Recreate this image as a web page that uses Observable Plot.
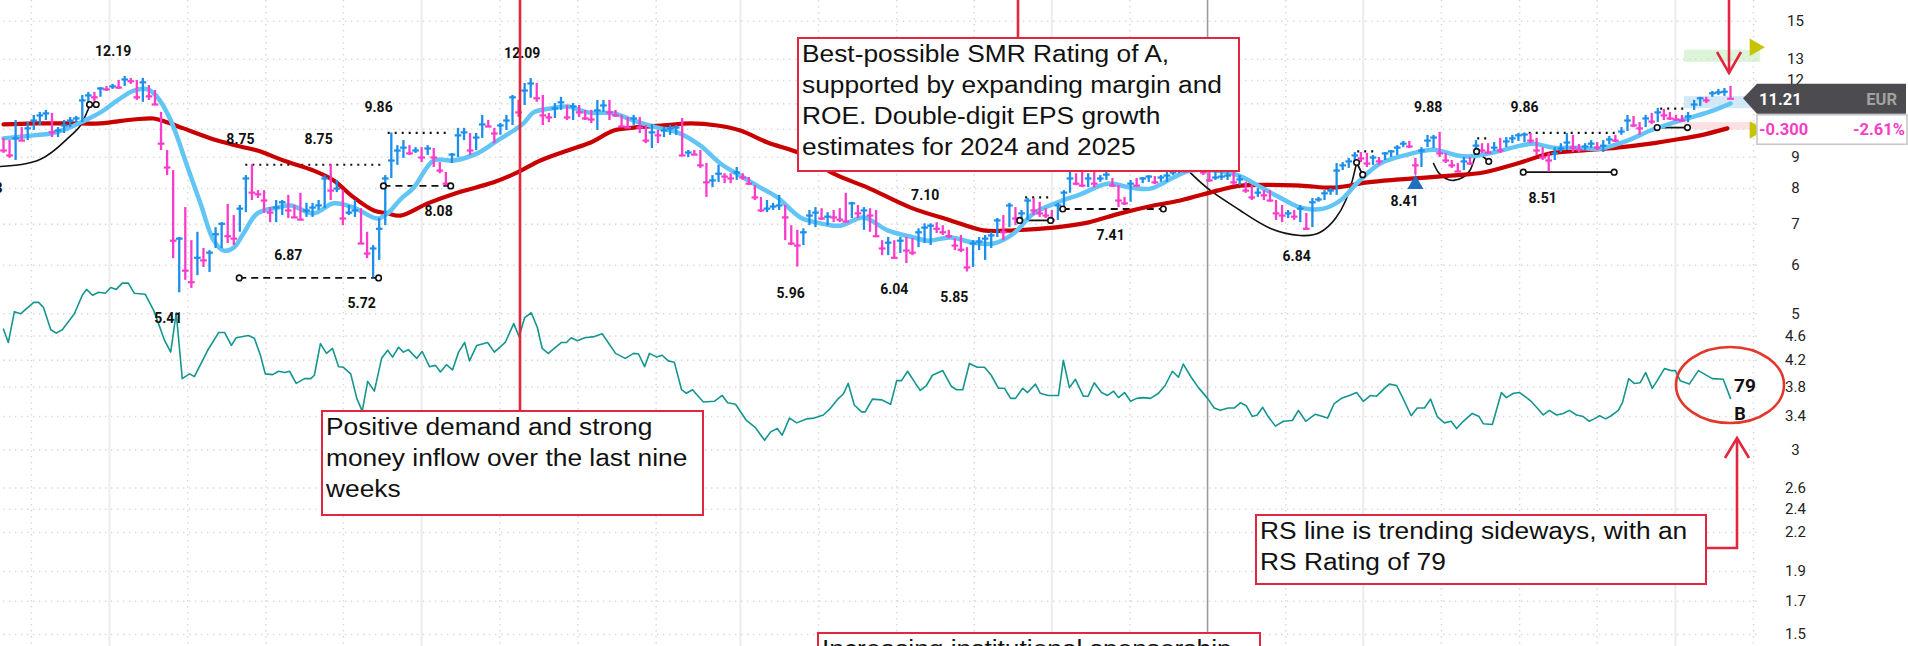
<!DOCTYPE html>
<html><head><meta charset="utf-8">
<script src="https://cdn.jsdelivr.net/npm/d3@7"></script>
<script src="https://cdn.jsdelivr.net/npm/@observablehq/plot@0.6"></script>
<style>
html,body{margin:0;padding:0;background:#fff;overflow:hidden}
#wrap{position:relative;width:1908px;height:646px;overflow:hidden;background:#fff}
#wrap > svg{position:absolute;left:0;top:0}
.box{position:absolute;box-sizing:border-box;border:2.6px solid #e3263f;background:#fff;overflow:hidden}
.box .t{position:absolute;left:3px;top:0;transform:scaleX(1.12);transform-origin:0 0;white-space:nowrap;
  font-family:"Liberation Sans",Arial,sans-serif;font-size:23.5px;line-height:31px;color:#111}
</style></head>
<body><div id="wrap"></div>
<script>
// ---------- weekly price bars (high / low / close) ----------
const H = [9.66,9.58,10.33,10.06,10.25,10.53,10.65,10.73,10.61,10.06,
10.33,10.45,10.49,11.35,11.48,11.48,11.69,11.74,11.83,12.01,
12.19,12.10,12.01,12.10,11.78,11.56,10.65,9.23,8.56,6.66,
7.45,6.58,6.79,6.39,6.34,6.91,7.04,7.54,7.23,7.51,
8.40,8.75,7.94,7.94,7.45,7.65,7.65,7.80,7.51,7.86,
7.57,7.57,7.65,8.40,8.75,8.25,7.94,7.51,7.65,7.42,
6.79,6.46,7.15,8.40,9.86,9.40,9.58,
9.40,9.33,9.33,9.40,9.30,8.82,8.50,9.13,10.03,10.03,
9.84,9.84,10.53,10.33,10.03,10.22,10.53,11.35,11.14,11.87,
12.09,11.87,11.35,10.61,11.01,11.27,10.93,11.01,10.93,10.73,
10.73,11.14,11.14,11.14,10.73,10.53,10.45,10.53,10.45,10.14,
10.18,9.95,10.06,10.14,10.14,10.41,9.23,9.23,9.23,8.79,
8.40,8.73,8.46,8.46,8.66,8.46,8.34,8.09,7.74,7.65,
7.57,7.80,7.51,6.96,6.84,6.88,
7.37,7.45,7.42,7.31,7.37,7.42,7.86,7.60,7.51,7.45,
7.42,7.37,6.58,6.66,6.58,6.66,6.66,6.63,6.88,7.01,
7.01,7.04,6.96,6.84,6.63,6.71,6.41,6.58,6.66,6.71,
6.79,7.15,7.23,7.57,7.45,7.37,7.71,7.71,7.60,7.42,
7.37,7.57,7.94,8.50,8.46,8.50,8.46,8.56,8.40,8.56,
8.31,8.09,7.74,8.25,8.31,8.34,8.40,8.37,8.40,8.50,
8.56,8.66,8.66,8.73,8.79,8.63,
8.50,8.50,8.50,8.56,8.50,8.40,8.19,8.09,8.00,7.94,
7.94,7.65,7.51,7.37,7.37,7.51,7.29,7.71,7.74,7.94,
8.00,8.79,8.82,8.96,9.16,9.16,9.13,9.06,8.99,9.16,
9.23,9.40,9.55,9.55,8.96,9.33,9.77,9.77,9.88,9.13,
8.89,8.79,8.99,8.99,9.58,9.47,9.47,9.51,9.66,9.69,
9.77,9.84,9.86,9.84,9.66,9.33,9.13,9.33,9.47,9.84,
9.77,9.44,9.47,9.58,9.51,9.58,9.73,9.77,10.06,10.53,
10.49,10.25,10.53,10.61,10.81,10.77,10.65,10.53,10.53,10.65,
11.14,11.27,11.27,11.52,11.61,11.65,11.74];
const L = [9.13,8.96,8.89,9.55,9.58,9.95,10.14,10.33,9.69,9.69,
9.84,10.06,10.25,10.25,10.81,11.06,11.27,11.52,11.61,11.61,
11.74,11.83,11.14,11.06,11.14,10.93,9.23,8.40,6.15,5.41,
5.67,5.50,5.77,5.95,5.84,6.39,6.39,6.51,6.46,6.79,
7.31,7.65,7.71,7.29,7.04,7.04,7.23,7.15,7.15,7.10,
7.18,7.18,7.37,7.42,7.65,7.88,6.96,7.23,7.18,6.51,
6.15,5.72,6.11,6.96,8.31,8.73,8.96,
9.06,9.13,8.82,9.06,8.66,8.46,8.08,8.79,8.99,9.58,
9.06,9.23,9.66,10.06,9.47,9.77,9.95,10.14,10.45,10.93,
11.23,11.06,10.14,10.25,10.41,10.73,10.33,10.33,10.45,10.33,
10.21,9.95,10.65,10.33,10.45,10.06,10.03,10.14,9.84,9.47,
9.30,9.47,9.69,9.77,9.77,9.06,8.99,9.06,8.63,7.74,
8.03,8.19,8.15,8.15,8.25,8.25,8.09,7.65,7.31,7.31,
7.37,7.37,6.58,6.46,5.96,6.46,
6.96,6.91,7.10,6.96,7.04,7.04,7.04,7.15,7.15,6.84,
6.79,6.66,6.22,6.22,6.15,6.27,6.04,6.22,6.41,6.51,
6.46,6.76,6.71,6.63,6.34,6.29,5.85,5.95,6.34,6.11,
6.39,6.66,6.58,6.91,6.96,7.04,7.10,7.23,7.18,7.15,
7.04,7.10,7.45,7.86,8.09,8.03,8.03,8.03,8.19,8.25,
8.03,7.45,7.51,7.60,8.06,8.15,8.19,8.12,8.19,8.19,
8.40,8.46,8.50,8.50,8.56,8.40,
8.19,8.25,8.25,8.25,8.09,8.09,7.86,7.65,7.74,7.65,
7.60,7.10,7.04,7.15,7.10,7.04,6.84,6.91,7.60,7.65,
7.80,7.80,8.56,8.63,8.79,8.82,8.66,8.73,8.73,8.89,
8.99,9.06,9.33,9.30,8.41,8.66,9.33,9.30,8.99,8.79,
8.63,8.53,8.56,8.73,9.23,9.13,9.13,9.20,9.13,9.33,
9.47,9.55,9.51,9.47,9.06,8.89,8.51,8.89,9.16,9.23,
9.16,9.16,9.23,9.30,9.23,9.16,9.44,9.51,9.77,9.91,
10.06,9.77,10.06,10.18,10.25,10.33,10.33,10.29,10.25,10.25,
10.73,10.89,11.01,11.27,11.35,11.31,11.23];
const C = [9.23,9.06,9.66,9.58,10.03,10.33,10.53,10.61,9.88,9.95,
10.14,10.33,10.41,11.14,11.35,11.27,11.65,11.61,11.74,11.69,
12.05,11.97,11.27,11.92,11.31,10.97,9.47,8.66,6.58,6.63,
5.88,5.63,6.17,6.11,6.29,6.74,7.01,6.69,6.63,7.42,
8.31,7.88,7.83,7.65,7.31,7.45,7.60,7.37,7.18,7.12,
7.37,7.45,7.51,8.31,7.94,8.00,7.15,7.31,7.37,6.51,
6.27,6.39,6.88,8.31,8.89,9.23,9.33,
9.13,9.23,8.99,9.30,8.99,8.56,8.15,9.09,9.77,9.88,
9.23,9.69,10.18,10.10,9.84,10.14,10.33,11.27,10.65,11.56,
11.87,11.23,10.53,10.45,10.81,11.06,10.45,10.89,10.65,10.41,
10.37,10.73,10.93,10.65,10.53,10.10,10.06,10.41,10.06,9.58,
9.88,9.77,9.95,10.03,10.06,9.06,9.16,9.09,8.73,8.19,
8.25,8.46,8.37,8.31,8.50,8.34,8.15,7.74,7.37,7.42,
7.48,7.51,7.18,6.51,6.46,6.79,
7.23,7.31,7.15,7.20,7.18,7.12,7.07,7.57,7.29,7.37,
7.23,6.69,6.39,6.53,6.17,6.58,6.34,6.29,6.79,6.91,
6.96,6.88,6.79,6.69,6.46,6.36,5.95,6.51,6.56,6.63,
6.71,7.10,6.79,7.51,7.15,7.29,7.65,7.37,7.29,7.23,
7.10,7.51,7.88,8.31,8.15,8.09,8.31,8.15,8.31,8.43,
8.09,7.65,7.57,8.15,8.09,8.31,8.37,8.19,8.34,8.40,
8.50,8.56,8.53,8.63,8.69,8.50,
8.25,8.34,8.37,8.40,8.19,8.28,7.94,7.74,7.88,7.80,
7.65,7.29,7.23,7.29,7.20,7.42,6.88,7.60,7.68,7.86,
7.94,8.56,8.73,8.86,9.06,8.96,8.79,8.99,8.86,9.13,
9.20,9.33,9.47,9.37,8.73,9.23,9.58,9.69,9.13,8.89,
8.73,8.53,8.86,8.79,9.40,9.23,9.16,9.33,9.23,9.55,
9.66,9.77,9.80,9.58,9.23,8.99,8.89,9.13,9.30,9.51,
9.33,9.26,9.37,9.47,9.33,9.40,9.62,9.58,9.91,10.33,
10.14,10.03,10.41,10.29,10.65,10.53,10.41,10.37,10.33,10.49,
10.97,11.23,11.14,11.44,11.48,11.51,11.21];

// ---------- moving averages (week index, price) ----------
const ma10Week = [0,5,7.8,10.6,12.7,16,18.8,21.5,23.8,25.4,27.6,30.4,32.5,34.7,36.3,38,39.6,41.9,45.2,47.4,51.2,54.5,57.8,61.7,63.4,65.5,67.7,71,74.3,78.2,81.5,84.2,85.8,87.5,90.3,93.1,96.4,100.7,104,107.9,111.2,115,118.3,122.1,124.9,127.7,131.5,134.3,138.1,141.9,145.9,150.2,152.5,156.3,160.1,163.4,166.7,170,174,177.7,182.2,186,189.3,193.1,195.9,203,207.9,212.4,214,217.8,220.6,223.5,227.2,231.7,236,239.9,242.1,245.9,250.3,252.5,255.8,259.7,263.5,268,271.8,275.6,279.6,282.2,285];
const ma10Value = [9.66,9.77,9.84,10.03,10.25,10.65,11.14,11.56,11.61,11.27,10.33,8.66,7.57,6.58,6.34,6.41,6.76,7.29,7.45,7.51,7.29,7.57,7.45,7.15,7.29,7.68,8.03,8.89,8.89,9.13,9.58,9.95,10.22,10.65,10.81,10.89,10.65,10.61,10.33,10.06,9.88,9.40,8.79,8.34,8.03,7.74,7.18,7.04,6.96,7.18,6.84,6.66,6.58,6.66,6.53,6.51,6.76,7.29,7.60,7.83,8.15,8.03,8.00,8.34,8.56,8.46,8.00,7.57,7.45,7.42,7.65,8.19,8.79,9.09,9.26,9.06,9.03,9.16,9.40,9.47,9.33,9.33,9.30,9.58,9.95,10.25,10.53,10.73,11.01];
const ma40Week = [0,5,10.6,16,21.5,24.8,27.1,29.7,35.3,39.1,41.9,46.2,51.2,54.5,57.8,61.1,63.4,65.5,70,74.9,80.9,84.8,88.6,93.1,96.9,100.7,104,108.9,113.4,117.8,121.6,126.1,131.5,137,142.6,149.7,156.3,161.7,166.7,173.3,178.9,184.3,189.8,194.2,200.3,204.1,214,219.5,225.1,230.5,238.8,244.2,249.8,255.3,260.7,266.3,271.8,277.2,280,284.5];
const ma40Value = [10.18,10.22,10.22,10.22,10.37,10.41,10.25,10.03,9.58,9.37,9.23,8.89,8.56,8.25,7.74,7.37,7.29,7.23,7.57,7.88,8.19,8.50,8.89,9.23,9.51,9.95,10.06,10.14,10.22,10.14,9.95,9.51,9.13,8.46,8.03,7.45,7.10,6.84,6.84,6.91,7.04,7.29,7.51,7.65,7.94,8.09,8.09,8.03,8.19,8.28,8.40,8.50,8.79,9.13,9.23,9.33,9.47,9.66,9.77,10.03];

// ---------- relative strength line (week index, value on price scale) ----------
const rsWeek = [0,0.8,1.8,2.8,5,5.8,6.6,7.8,8.7,9.7,11.7,13,13.7,14.7,15.7,16.8,17.7,18.6,19.6,20.6,21.6,23.4,24.8,26.6,27.6,28.5,29.5,30.7,31.5,33.7,35.5,36.5,37.6,38.4,40.4,41.4,42.4,43.2,44.4,45.4,46.4,47.2,48.3,49.7,50.7,51.3,52.3,53.3,54.3,55.3,56.1,57.3,58.3,59.2,60.1,61.2,62.4,63.4,64.2,65.2,66,66.8,68.2,69.1,70.3,71.3,72.1,73.1,74.1,75.1,76.1,76.9,78.1,79.9,81,82.8,84.2,85.1,86,87.1,88.1,88.9,89.9,92.1,92.9,93.7,94.7,95.9,97.5,98.8,101,102.6,104,104.8,105.8,106.6,107.8,108.7,109.7,110.7,111.9,112.7,113.7,115.5,117.3,118.6,119.5,120.8,122.6,124.1,125.6,126.6,127.7,128.5,129.7,130.9,132.5,133.8,135.3,136.5,137.8,138.6,139.4,140.4,141.6,142.2,143.4,144.9,146.4,147.4,148.2,149.2,150.5,151.3,152.3,153.3,155,156.4,157.3,158.3,159.4,160.7,161.9,163,164.2,165.2,166.2,167,168.2,169,170.3,171.1,172.4,174.1,174.9,175.9,176.9,178.2,179,180,181.2,182.2,183.2,184,185,186,187,188.1,189.3,190.6,191.7,192.9,193.9,194.7,196,197.2,198.7,199.8,200.8,202.1,203.1,204.1,205.1,206.1,206.9,207.8,208.7,209.9,211.2,212.7,213.7,214.9,216.5,218.5,219.6,220.8,222.1,223.3,224.4,225.6,226.6,227.9,228.7,229.9,230.9,232.3,233.3,234.5,235.5,236.6,237.8,238.9,239.8,240.9,242.4,243.5,244.2,245.7,247.2,248,249.2,250.2,251.5,252.1,253.1,254.1,255.1,256.3,257.4,258.4,259.6,260.7,261.7,262.5,263.4,264.4,265.3,266.5,267.2,268.2,269.1,270.1,271,272.1,272.9,274.1,275.2,275.9,276.7,278.2,279.7,282,283.8,285];
const rsValue = [4.72,4.49,5.04,5.00,5.22,5.22,5.12,4.71,4.65,4.71,5.00,5.36,5.48,5.36,5.42,5.40,5.52,5.48,5.61,5.61,5.40,5.38,5.06,4.52,4.33,5.02,3.92,3.99,3.95,4.36,4.66,4.66,4.44,4.57,4.61,4.56,4.28,3.99,3.98,4.03,4.01,4.03,3.85,3.92,3.92,3.97,4.47,4.31,4.39,4.10,4.09,3.99,3.64,3.47,3.88,3.74,4.23,4.36,4.25,4.41,4.33,4.37,4.23,4.34,4.10,4.12,4.02,4.13,4.05,4.33,4.49,4.19,4.44,4.49,4.33,4.49,4.82,4.59,4.93,5.02,4.75,4.39,4.31,4.49,4.49,4.57,4.52,4.57,4.59,4.64,4.31,4.23,4.31,4.30,4.10,4.31,4.25,4.28,4.19,4.17,3.76,3.71,3.76,3.59,3.60,3.68,3.58,3.56,3.35,3.26,3.11,3.21,3.25,3.17,3.38,3.32,3.37,3.38,3.42,3.51,3.64,3.70,3.85,3.55,3.46,3.46,3.63,3.62,3.56,3.89,3.89,4.03,3.85,3.75,3.82,3.97,4.04,3.81,3.76,3.76,4.15,4.09,4.09,3.97,3.78,3.78,3.64,3.64,3.78,3.72,3.84,3.71,3.68,3.68,4.20,3.79,3.91,3.67,3.67,3.86,3.72,3.68,3.74,3.65,3.72,3.60,3.64,3.65,3.64,3.71,3.82,4.03,3.94,4.14,3.94,3.79,3.64,3.51,3.48,3.51,3.51,3.58,3.54,3.40,3.42,3.52,3.40,3.28,3.34,3.35,3.48,3.34,3.43,3.38,3.57,3.64,3.68,3.72,3.60,3.68,3.67,3.78,3.84,3.82,3.65,3.41,3.51,3.51,3.63,3.40,3.32,3.34,3.25,3.34,3.44,3.40,3.31,3.30,3.72,3.65,3.71,3.72,3.64,3.60,3.51,3.42,3.48,3.42,3.44,3.48,3.42,3.40,3.34,3.37,3.41,3.37,3.41,3.48,3.59,3.92,3.85,3.86,4.01,3.78,3.89,4.07,4.04,4.04,3.89,3.84,4.04,3.92,3.91,3.64];

// ---------- axis / grid ----------
const yTicks = [15,13,12,11,10,9,8,7,6,5,4.6,4.2,3.8,3.4,3,2.6,2.4,2.2,1.9,1.7,1.5];
const yTicksUnderTag = [11,10];   // labels hidden behind the price tag
const yearWeeks = [17.5,69,121.6,173,224.4,275.9];
const quarterWeeks = [4.6,30.4,43.3,56.1,81.9,94.8,107.7,134.5,147.4,160.2,185.9,211.6,237.3,250.2,263.0,288.8];
const markedWeek = [198.7];

// ---------- price labels ----------
const labelWeek  = [18.1,39.1,52,61.9,47,59.1,27.2,85.6,71.8,129.9,152.1,147,156.9,182.7,213.4,231.2,235.1,251,254,-2.5];
const labelValue = [12.19,8.75,8.75,9.86,6.87,5.72,5.41,12.09,8.08,5.96,7.10,6.04,5.85,7.41,6.84,8.41,9.88,9.86,8.51,8.83];
const labelSide  = ["above","above","above","above","below","below","below","above","below","below","above","below","below","below","below","below","above","above","below","below"];

// ---------- pattern lines (week from, week to, price, kind) ----------
const levelFrom  = [39.9,63.4,38.9,62.7,168.6,167.7,174.8,223.4,243.2,251.7,250.8,273.4,272.9];
const levelTo    = [62.2,73.8,61.9,73.8,172.8,172.8,191.4,226.7,245.4,266.3,265.8,277.9,277.9];
const levelPrice = [8.75,9.86,5.72,8.08,7.74,7.10,7.41,9.20,9.66,9.86,8.51,10.80,10.06];
const levelKind  = ["dotted","dotted","dashed","dashed","dotted","solid","dashed","dotted","dotted","dotted","solid","dotted","solid"];
const arcLeftWeek = [-0.5,6.1,10.6,12.7,13.9,14.4];
const arcLeftPrice = [8.69,8.93,9.66,10.14,10.73,10.97];
const cup1Week = [195.5,199.2,204.1,209.1,214,217.3,219.8,221.5,222.6,223.3];
const cup1Price = [8.56,7.94,7.37,6.89,6.71,6.79,7.15,7.65,8.25,8.82];
const cup2Week = [236,236.8,238,239.3,240.8,242.1,243.1];
const cup2Price = [8.79,8.50,8.31,8.25,8.34,8.60,9.20];
const handleWeek = [[14.2,15.3],[223.3,224.3],[243.1,245.1]];
const handlePrice = [[10.97,10.97],[8.82,8.43],[9.20,8.86]];

// ---------- right edge ----------
const bandLow = [12.85,10.80,9.97], bandHigh = [13.45,11.30,10.25];
const flagPrices = [13.6,9.97];
const currency = "EUR";
const rsRating = 79, accDisRating = "B";

// ======================================================
const n = C.length;
const bars = C.map((c,i)=>({i, h:H[i], l:L[i], c, up: i>0 && c >= C[i-1]}));
const ma10 = ma10Week.map((w,k)=>({w, v:ma10Value[k]}));
const ma40 = ma40Week.map((w,k)=>({w, v:ma40Value[k]}));
const rs = rsWeek.map((w,k)=>({w, v:rsValue[k]}));
const labels = labelWeek.map((w,k)=>({w, v:labelValue[k], side:labelSide[k]}));
const levels = levelFrom.map((w1,k)=>({w1, w2:levelTo[k], v:levelPrice[k], kind:levelKind[k]}));
const circleLevels = levels.filter(d=>d.kind!=="dotted");
const endCircles = circleLevels.flatMap(d=>[{w:d.w1,v:d.v},{w:d.w2,v:d.v}])
  .concat(handleWeek.flatMap((ws,k)=>ws.map((w,j)=>({w, v:handlePrice[k][j]}))));
const handles = handleWeek.map((ws,k)=>({w1:ws[0],w2:ws[1],v1:handlePrice[k][0],v2:handlePrice[k][1]}));
const arcL = arcLeftWeek.map((w,k)=>({w,v:arcLeftPrice[k]}));
const cup1 = cup1Week.map((w,k)=>({w,v:cup1Price[k]}));
const cup2 = cup2Week.map((w,k)=>({w,v:cup2Price[k]}));
const last = n-1, extra = last + 5;
const bands = bandLow.map((lo,k)=>({lo, hi:bandHigh[k]}));
const bandColors = ["#dcf5d8","#d3e9f8","#fde0e4"];
const tickLabels = yTicks.filter(t => !yTicksUnderTag.includes(t));

const BLUE="#1b8feb", MAG="#fb3ccb";
const dashOf = k => k==="dotted" ? "2,5" : k==="dashed" ? "7,5" : null;

const chart = Plot.plot({
  width: 1908, height: 646,
  marginTop: 0, marginBottom: 0, marginLeft: 3, marginRight: 178,
  x: {domain: [0, last], axis: null},
  y: {type: "log", domain: [1.434, 16.21], axis: null},
  style: {background: "#fff", overflow: "visible"},
  marks: [
    Plot.rect(bands, {x1: last-7.6, x2: extra, y1: "lo", y2: "hi", fill: (d,k)=>bandColors[k]}),
    Plot.ruleX(yearWeeks, {stroke: "#ececec", strokeWidth: 2}),
    Plot.ruleX(quarterWeeks, {stroke: "#d9d9d9", strokeWidth: 1.5, strokeDasharray: "1.5,4.5"}),
    Plot.ruleY(yTicks, {x1: -1, x2: extra, stroke: "#d9d9d9", strokeWidth: 1.5, strokeDasharray: "1.5,4.5"}),
    Plot.ruleX(markedWeek, {stroke: "#9b9b9b", strokeWidth: 1.6}),
    ...["dotted","dashed","solid"].map(k => Plot.link(levels.filter(d=>d.kind===k),
        {x1:"w1", x2:"w2", y1:"v", y2:"v", stroke:"#111", strokeWidth: k==="dotted"?2.2:1.8, strokeDasharray: dashOf(k)})),
    Plot.link(handles, {x1:"w1", x2:"w2", y1:"v1", y2:"v2", stroke:"#111", strokeWidth:1.8}),
    Plot.line(arcL, {x:"w", y:"v", curve:"natural", stroke:"#111", strokeWidth:1.6}),
    Plot.line(cup1, {x:"w", y:"v", curve:"natural", stroke:"#111", strokeWidth:1.6}),
    Plot.line(cup2, {x:"w", y:"v", curve:"natural", stroke:"#111", strokeWidth:1.6}),
    Plot.line(rs, {x:"w", y:"v", stroke:"#14968f", strokeWidth:1.6}),
    Plot.line(ma40, {x:"w", y:"v", curve:"catmull-rom", stroke:"#c80000", strokeWidth:4.2}),
    Plot.line(ma10, {x:"w", y:"v", curve:"catmull-rom", stroke:"#62c5f5", strokeWidth:4.5}),
    Plot.ruleX(bars, {x:"i", y1:"l", y2:"h", stroke: d=>d.up?BLUE:MAG, strokeWidth:2.3}),
    Plot.link(bars, {x1: d=>d.i-0.55, x2: d=>d.i+0.55, y1:"c", y2:"c", stroke: d=>d.up?BLUE:MAG, strokeWidth:2.2}),
    Plot.dot(endCircles, {x:"w", y:"v", r:2.8, fill:"#fff", stroke:"#111", strokeWidth:1.6}),
    Plot.dot([bars[233]], {x:"i", y:"l", dy: 9, symbol:"triangle", r:6, fill:"#1e6fc0"}),
    Plot.text(labels.filter(d=>d.side==="above"), {x:"w", y:"v", text: d=>d.v.toFixed(2), dy:-25,
       fontFamily:"Roboto", fontWeight:"bold", fontSize:14, fill:"#111"}),
    Plot.text(labels.filter(d=>d.side==="below"), {x:"w", y:"v", text: d=>d.v.toFixed(2), dy:26,
       fontFamily:"Roboto", fontWeight:"bold", fontSize:14, fill:"#111"}),
    Plot.dot(flagPrices, {x: last+4, y: d=>d, symbol:"triangle", rotate: 90, r:6.5, fill:"#c6c400"}),
    Plot.text(tickLabels, {y: d=>d, frameAnchor:"right", dx: 65, text: d=>String(d),
       textAnchor:"middle", fontFamily:"Roboto", fontSize:15, fill:"#222"})
  ]
});
const wrap = document.getElementById("wrap");
wrap.appendChild(chart);

const xs = chart.scale("x"), ys = chart.scale("y");

// ---------- text boxes ----------
function box(l,t,w,h,lines){
  const b = document.createElement("div");
  b.className="box"; Object.assign(b.style,{left:l+"px",top:t+"px",width:w+"px",height:h+"px"});
  const tx = document.createElement("div"); tx.className="t";
  tx.innerHTML = lines.join("<br>");
  b.appendChild(tx); wrap.appendChild(b);
}
box(797,37,443,135,["Best-possible SMR Rating of A,","supported by expanding margin and","ROE. Double-digit EPS growth","estimates for 2024 and 2025"]);
box(321,410,383,106,["Positive demand and strong","money inflow over the last nine","weeks"]);
box(1255,514,452,71,["RS line is trending sideways, with an","RS Rating of 79"]);
box(817,632,444,60,["Increasing institutional sponsorship"]);

// ---------- overlay: red callouts, price tag ----------
const ov = d3.select(wrap).append("svg").attr("width",1908).attr("height",646)
  .style("position","absolute").style("left",0).style("top",0);
const RED="#e3263f";
const seg = (pts, col, w) => ov.append("polyline").attr("points", pts.map(p=>p.join(",")).join(" "))
  .attr("fill","none").attr("stroke",col||RED).attr("stroke-width",w||2.6).attr("stroke-linejoin","miter");
seg([[520,0],[520,410]]);
seg([[1018,0],[1018,37]]);
const lastX = xs.apply(last);
seg([[lastX-1,0],[lastX-1,73]]);
seg([[lastX-13,52],[lastX-1,73],[lastX+11,52]]);
seg([[1707,548],[1737,548],[1737,439]]);
seg([[1725,458],[1737,438],[1749,458]]);
ov.append("ellipse").attr("cx",1730).attr("cy",385).attr("rx",54).attr("ry",38)
  .attr("fill","none").attr("stroke","#e2382a").attr("stroke-width",2.6);
ov.append("text").attr("x",1745).attr("y",392).attr("text-anchor","middle")
  .attr("font-family","Roboto").attr("font-weight","bold").attr("font-size",19).attr("fill","#111").text(rsRating);
ov.append("text").attr("x",1740).attr("y",420).attr("text-anchor","middle")
  .attr("font-family","Roboto").attr("font-weight","bold").attr("font-size",18).attr("fill","#111").text(accDisRating);

const lastClose = C[last], prevClose = C[last-1];
const chg = lastClose - prevClose, pct = chg/prevClose*100;
const ty = ys.apply(lastClose);
ov.append("polygon").attr("points",[[1743,ty],[1757,ty-14.5],[1906,ty-14.5],[1906,ty+15.5],[1757,ty+15.5]].map(p=>p.join(",")).join(" "))
  .attr("fill","#4b4b50");
ov.append("text").attr("x",1759).attr("y",ty+7).attr("font-family","Roboto").attr("font-weight","bold")
  .attr("font-size",16.5).attr("fill","#fff").text(lastClose.toFixed(2));
ov.append("text").attr("x",1897).attr("y",ty+7).attr("text-anchor","end").attr("font-family","Roboto").attr("font-weight","bold")
  .attr("font-size",16.5).attr("fill","#a2a2a2").text(currency);
ov.append("rect").attr("x",1757).attr("y",ty+16.5).attr("width",150).attr("height",29.5)
  .attr("fill","#fff").attr("stroke","#c8c8c8").attr("stroke-width",1.6);
ov.append("text").attr("x",1759).attr("y",ty+37).attr("font-family","Roboto").attr("font-weight","bold")
  .attr("font-size",16.5).attr("fill","#f53ec6").text(chg.toFixed(3));
ov.append("text").attr("x",1905).attr("y",ty+37).attr("text-anchor","end").attr("font-family","Roboto").attr("font-weight","bold")
  .attr("font-size",16.5).attr("fill","#f53ec6").text(pct.toFixed(2)+"%");
</script>
</body></html>
